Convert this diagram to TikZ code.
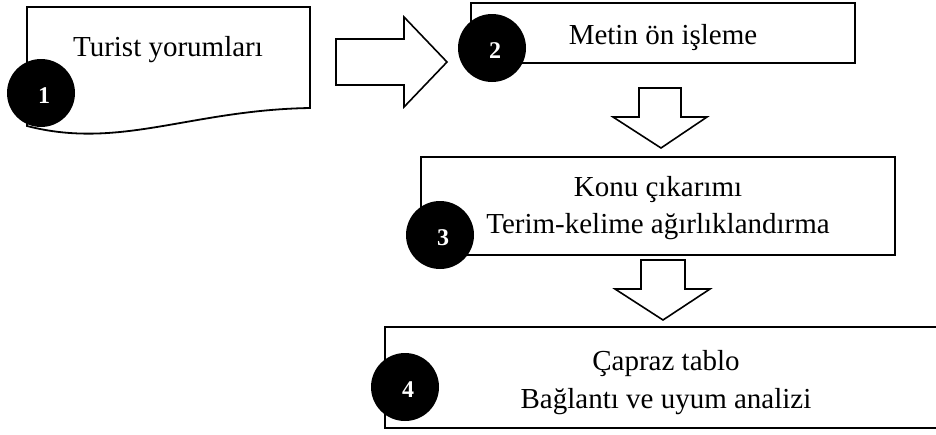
\documentclass[tikz,border=0pt]{standalone}
\usepackage{fontspec}
\setmainfont{Liberation Serif}
\begin{document}
\begin{tikzpicture}[x=1pt,y=-1pt,
  outline/.style={draw=black,line width=1.8pt,line join=miter},
  labeltext/.style={anchor=base,inner sep=0pt,font=\fontsize{29}{37.5}\selectfont},
  stage/.style={outline,rectangle,inner sep=0pt},
  badge/.style={circle,fill=black,draw=none,minimum size=68pt,inner sep=0pt},
  badgenum/.style={text=white,inner sep=0pt,font=\fontsize{24}{24}\selectfont\bfseries},
  blockarrow/.style={draw=black,line width=1.6pt,fill=white,line join=miter}]
\useasboundingbox (0,0) rectangle (936,434);
\clip (0,0) rectangle (936,434);

% document shape with wavy bottom edge
\coordinate (dtl) at (27,7);
\coordinate (dtr) at (310,7);
\coordinate (dbr) at (310,108);
\coordinate (dbl) at (27,126);
\draw[outline,fill=white] (dtl) -- (dtr) -- (dbr)
  .. controls (190,110) and (120,150) .. (dbl) -- cycle;
\node[labeltext] (doc) at (168,56) {Turist yorumları};

% process boxes
\node[stage,minimum width=384pt,minimum height=60pt] (s2) at (663,33) {};
\node[stage,minimum width=474pt,minimum height=98pt] (s3) at (658,206) {};
\node[stage,minimum width=562pt,minimum height=101pt] (s4) at (666,377.5) {};

% box labels, one node per line
\node[labeltext] (s2a) at (663,44) {Metin ön işleme};
\node[labeltext] (s3a) at (658,196) {Konu çıkarımı};
\node[labeltext] (s3b) at (658,233) {Terim-kelime ağırlıklandırma};
\node[labeltext] (s4a) at (666,370) {Çapraz tablo};
\node[labeltext] (s4b) at (666,408) {Bağlantı ve uyum analizi};

% block arrows
\draw[blockarrow] (336,39) -- (404,39) -- (404,17) -- (447,62) -- (404,107)
  -- (404,85) -- (336,85) -- cycle;
\draw[blockarrow] (639,88) -- (681,88) -- (681,117) -- (707,117) -- (661,148)
  -- (613,117) -- (639,117) -- cycle;
\draw[blockarrow] (641,260) -- (685,260) -- (685,289) -- (710,289) -- (663,320)
  -- (615,289) -- (641,289) -- cycle;

% numbered badges
\node[badge] (b1) at (41,93) {};
\node[badge] (b2) at (492,48) {};
\node[badge] (b3) at (440,235) {};
\node[badge] (b4) at (405,387) {};
\node[badgenum] at ([shift={(3,3)}]b1.center) {1};
\node[badgenum] at ([shift={(3,3)}]b2.center) {2};
\node[badgenum] at ([shift={(3,3)}]b3.center) {3};
\node[badgenum] at ([shift={(3,3)}]b4.center) {4};
\end{tikzpicture}
\end{document}
